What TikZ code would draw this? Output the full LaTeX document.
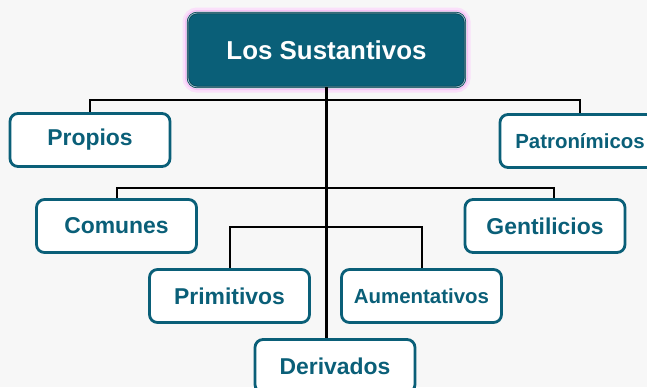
\documentclass[tikz,border=0pt]{standalone}
\usepackage{fontspec}
\setmainfont{Liberation Sans}
\definecolor{sustteal}{HTML}{0A5F78}
\definecolor{glowpink}{HTML}{F2A6F2}
\def\boxwd{160bp}
\def\boxht{53bp}

\begin{document}
\begin{tikzpicture}[x=1bp,y=-1bp]
            \tikzstyle{branch}=[draw=black,line width=2bp]
            \tikzstyle{category}=[draw=sustteal,line width=2.8bp,fill=white,rounded corners=8bp,
                minimum width=\boxwd,minimum height=\boxht,inner sep=0pt,text=sustteal,
                font=\fontsize{23}{26}\selectfont\bfseries]
            \tikzstyle{small category}=[category,font=\fontsize{20.5}{24}\selectfont\bfseries]
            \tikzstyle{root}=[preaction={draw=glowpink!35,line width=11bp},
                preaction={draw=glowpink!70,line width=6bp},
                preaction={draw=glowpink!25,line width=3.5bp},
                fill=sustteal,draw=sustteal!70!black,line width=0.8bp,double=white!55!sustteal,
                double distance=0.8bp,rounded corners=9bp,minimum width=277bp,minimum height=74bp,
                text=white,font=\fontsize{26}{30}\selectfont\bfseries]

            % Background
            \clip (0,0) rectangle (647,387);
            \fill[black!3] (0,0) rectangle (647,387);

            \node[root] (LS) at (326.5,50) {Los Sustantivos};

            % Draw the category boxes
            \foreach \name / \x / \y / \txt in {Pr/90/140/Propios,Co/116.5/226/Comunes,
                    Ge/545/226/Gentilicios,Pi/229.5/296/Primitivos,De/335/366/Derivados}
                \node[category] (\name) at (\x,\y) {\txt};

            \foreach \name / \x / \y / \txt in {Pa/580/141/Patronímicos,Au/421.5/296/Aumentativos}
                \node[small category] (\name) at (\x,\y) {\txt};

            % Junctions on the trunk
            \coordinate (J1) at (326.5,100);
            \coordinate (J2) at (326.5,188);
            \coordinate (J3) at (326.5,227);

            % Connect the boxes to the trunk
            \draw[branch] (Pr.north) |- (J1) -| (Pa.north);
            \draw[branch] (Co.north) |- (J2) -| ([xshift=9bp]Ge.north);
            \draw[branch] (Pi.north) |- (J3) -| (Au.north);
            \draw[branch,line width=3bp] (LS.south) -- (LS.south |- De.north);
        \end{tikzpicture}
\end{document}
